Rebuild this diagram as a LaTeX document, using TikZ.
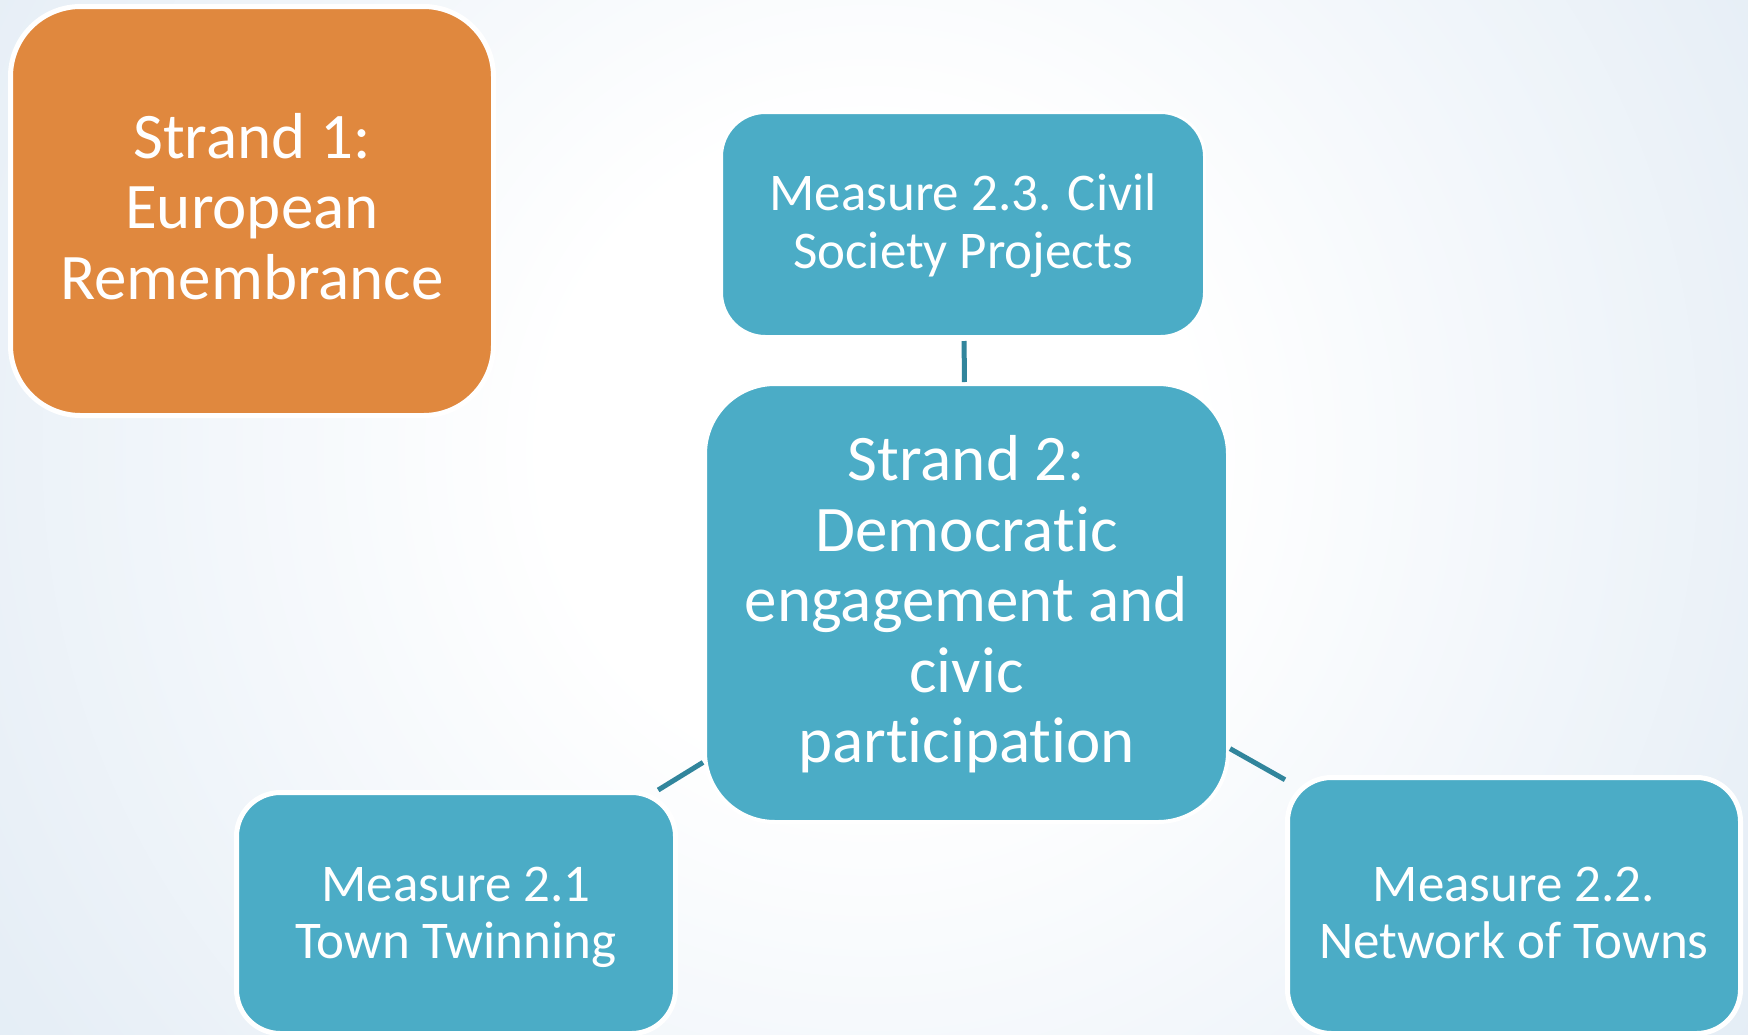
\documentclass[tikz,border=0pt]{standalone}
\usepackage{fontspec}
\setmainfont{Carlito}[Ligatures={NoCommon}]
\definecolor{bgA}{HTML}{F3F7FB}
\definecolor{bgB}{HTML}{E6EEF6}
\definecolor{bgC}{HTML}{DCE9F3}
\definecolor{bgD}{HTML}{D2E3EE}
\definecolor{teal}{HTML}{4BACC6}
\definecolor{orangefill}{HTML}{E0883E}
\definecolor{connteal}{HTML}{31859C}
\pgfdeclareradialshading{bgshade}{\pgfpoint{0bp}{0bp}}{color(0bp)=(white); color(9bp)=(white); color(18bp)=(bgA); color(28bp)=(bgB); color(39bp)=(bgC); color(50bp)=(bgD); color(72bp)=(bgD)}
\tikzset{
  basebox/.style={rectangle, draw=white, inner sep=0pt, align=center, text=white},
  bigbox/.style={basebox, rounded corners=70pt, font=\fontsize{65pt}{70.5pt}\selectfont},
  smallbox/.style={basebox, rounded corners=44pt, font=\fontsize{53pt}{57.5pt}\selectfont},
  conn/.style={draw=connteal, line width=5pt}
}
\begin{document}
\begin{tikzpicture}[x=1pt,y=-1pt]
\useasboundingbox (0,0) rectangle (1748,1034);
\begin{scope}
  \clip (0,0) rectangle (1748,1034);
  \shade[shading=bgshade] (-30,-450) rectangle (1770,1350);
\end{scope}

\node[bigbox, fill=orangefill, line width=5pt, minimum width=483pt, minimum height=409pt] (s1) at (252,211)
  {\rule{0pt}{60pt}Strand 1:\\European\\Remembrance\rule[-25pt]{0pt}{25pt}};

\node[smallbox, fill=teal, line width=3pt, minimum width=483pt, minimum height=224pt] (m23) at (963,224.5)
  {\rule{0pt}{50pt}Measure 2.3. Civil\\Society Projects\rule[-20pt]{0pt}{20pt}};

\node[bigbox, fill=teal, line width=4pt, minimum width=523pt, minimum height=438pt] (s2) at (966.5,603)
  {\rule{0pt}{62pt}Strand 2:\\Democratic\\engagement and\\civic\\participation\rule[-25pt]{0pt}{25pt}};

\node[smallbox, fill=teal, line width=5pt, minimum width=439pt, minimum height=241pt] (m21) at (456,913)
  {\rule{0pt}{52pt}Measure 2.1\\Town Twinning\rule[-18pt]{0pt}{18pt}};

\node[smallbox, fill=teal, line width=5pt, minimum width=453pt, minimum height=256pt] (m22) at (1514,905.5)
  {\rule{0pt}{62pt}Measure 2.2.\\Network of Towns\rule[-13pt]{0pt}{13pt}};

\draw[conn, shorten <=3pt] (m23) -- (s2);
\draw[conn] (s2) -- (m21);
\draw[conn] (s2) -- (m22);
\end{tikzpicture}
\end{document}
